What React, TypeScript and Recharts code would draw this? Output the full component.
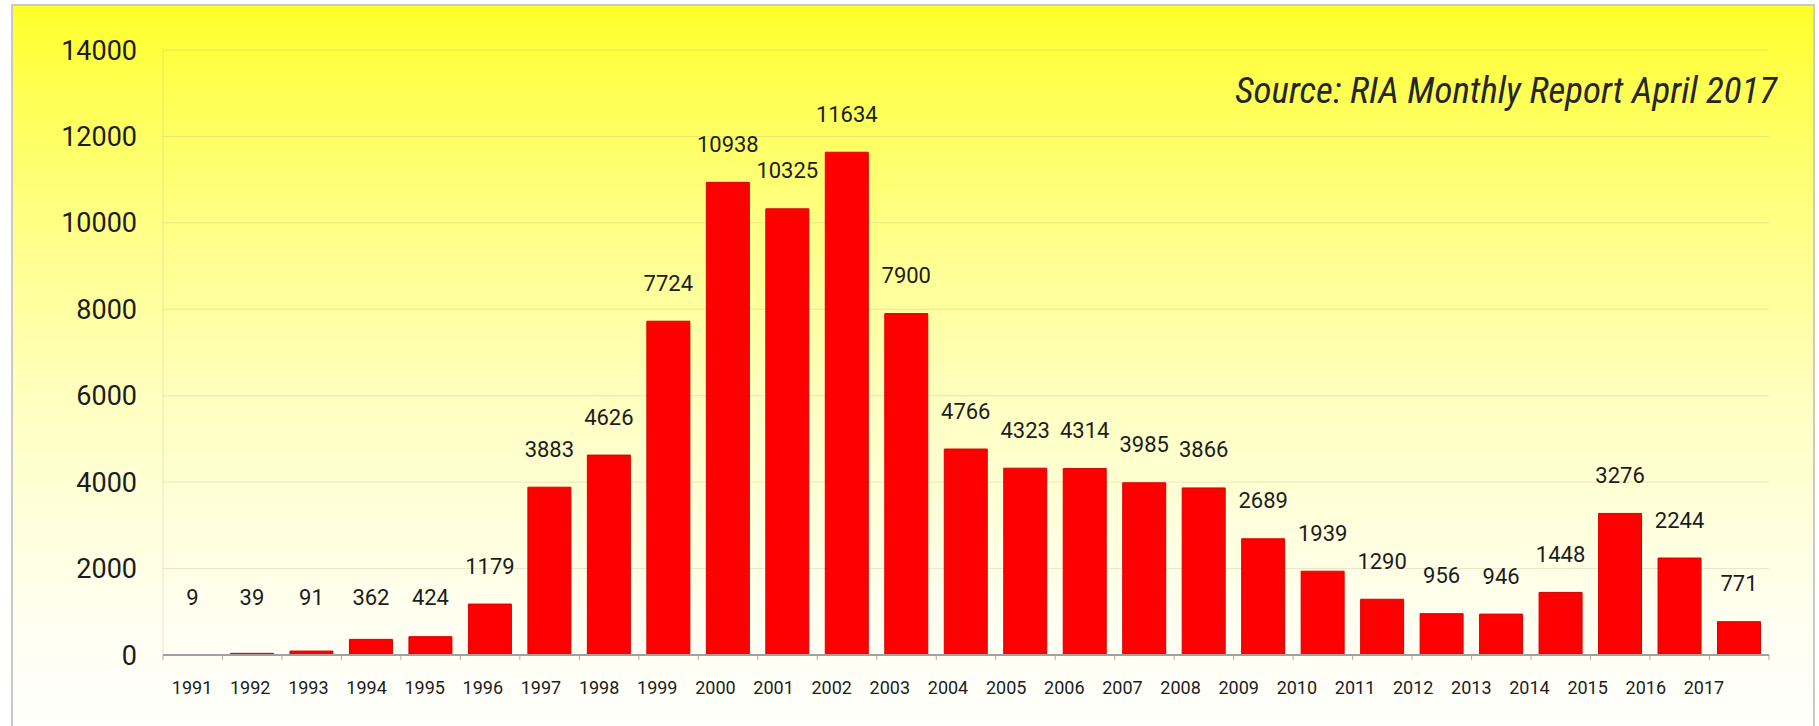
import React from 'react';
import { BarChart, Bar, XAxis, YAxis, CartesianGrid, LabelList } from 'recharts';

const years = ['1991', '1992', '1993', '1994', '1995', '1996', '1997', '1998', '1999', '2000', '2001', '2002', '2003', '2004', '2005', '2006', '2007', '2008', '2009', '2010', '2011', '2012', '2013', '2014', '2015', '2016', '2017'];
const values = [9, 39, 91, 362, 424, 1179, 3883, 4626, 7724, 10938, 10325, 11634, 7900, 4766, 4323, 4314, 3985, 3866, 2689, 1939, 1290, 956, 946, 1448, 3276, 2244, 771];
const yTicks = [0, 2000, 4000, 6000, 8000, 10000, 12000, 14000];
const sourceText = 'Source: RIA Monthly Report April 2017';

const data = years.map((year, i) => ({ year, value: values[i] }));

const NUM_FONT = "Roboto, 'Open Sans', sans-serif";
const SRC_FONT = "'Roboto Condensed', 'Liberation Sans Narrow', 'DejaVu Sans Condensed', sans-serif";

const BoundaryTick = (props: any) => {
  const { x, y, payload, index, visibleTicksCount } = props;
  const half = payload && typeof payload.offset === 'number' && payload.offset > 0 ? payload.offset : 29.7;
  const last = visibleTicksCount ? index === visibleTicksCount - 1 : index === years.length - 1;
  return (
    <g>
      <line x1={x - half} x2={x - half} y1={y} y2={y + 5} stroke="#a8a8a8" strokeWidth={1} />
      {last ? <line x1={x + half} x2={x + half} y1={y} y2={y + 5} stroke="#a8a8a8" strokeWidth={1} /> : null}
    </g>
  );
};

const ValueLabel = (props: any) => {
  const { x, y, width, height, value } = props;
  const cx = x + width / 2;
  const base = y + height;
  const cy = Math.min(y - 38, base - 58);
  return (
    <text x={cx} y={cy} textAnchor="middle" dominantBaseline="central" fontFamily={NUM_FONT} fontSize={22} fill="#1c1c1c">
      {value}
    </text>
  );
};

export default function App() {
  return (
    <div style={{ position: 'fixed', left: 0, top: 0, width: 1819, height: 726, background: '#ffffff', overflow: 'hidden' }}>
      <div
        style={{
          position: 'absolute',
          left: 11,
          top: 4,
          width: 1800,
          height: 740,
          border: '2px solid #cacaca',
          background: 'linear-gradient(to bottom, #ffff2a 0%, #ffff55 12%, #ffff8c 32%, #ffffc4 55%, #fffff0 82%, #ffffff 100%)',
        }}
      />
      <div style={{ position: 'absolute', left: 0, top: 0 }}>
        <BarChart width={1819} height={726} data={data} margin={{ top: 50, right: 50, bottom: 0, left: 0 }} barCategoryGap={16}>
          <CartesianGrid vertical={false} stroke="#bdb88a" strokeOpacity={0.35} />
          <YAxis
            domain={[0, 14000]}
            ticks={yTicks}
            width={163}
            tickLine={false}
            tickSize={0}
            tickMargin={26}
            axisLine={{ stroke: '#bdb88a', strokeOpacity: 0.35 }}
            tick={{ fontFamily: NUM_FONT, fontSize: 27, fill: '#1c1c1c' }}
            interval={0}
          />
          <XAxis
            dataKey="year"
            height={8}
            axisLine={{ stroke: '#a0a0a0', strokeWidth: 2 }}
            tickLine={false}
            tickSize={0}
            tickMargin={0}
            interval={0}
            tick={<BoundaryTick />}
          />
          <XAxis
            xAxisId="lbl"
            dataKey="year"
            height={63}
            padding={{ left: 0, right: 36 }}
            axisLine={false}
            tickLine={false}
            tickMargin={12}
            interval={0}
            tick={{ fontFamily: NUM_FONT, fontSize: 18, fill: '#1c1c1c' }}
          />
          <Bar dataKey="value" fill="#ff0000" stroke="#d80000" strokeWidth={1} barSize={43} isAnimationActive={false}>
            <LabelList dataKey="value" content={<ValueLabel />} />
          </Bar>
          <Bar xAxisId="lbl" dataKey="value" fill="none" fillOpacity={0} stroke="none" barSize={1} isAnimationActive={false} />
        </BarChart>
      </div>
      <svg width={1819} height={726} style={{ position: 'absolute', left: 0, top: 0, pointerEvents: 'none' }}>
        <text x={1777} y={103} textAnchor="end" fontFamily={SRC_FONT} fontStyle="italic" fontSize={37} fill="#262626">
          {sourceText}
        </text>
      </svg>
    </div>
  );
}
